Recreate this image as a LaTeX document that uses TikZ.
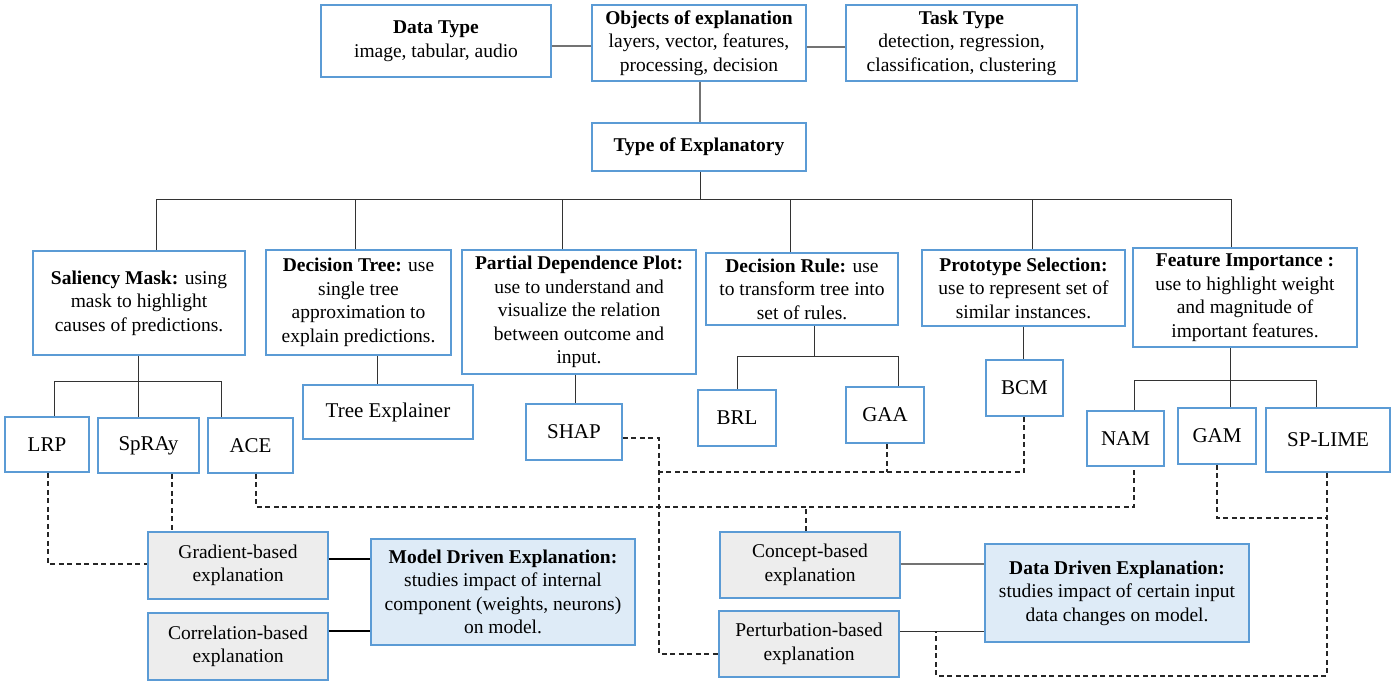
\documentclass[tikz,border=0pt]{standalone}
\usepackage{fontspec}
\setmainfont{Liberation Serif}
\definecolor{bblue}{RGB}{91,155,213}
\definecolor{gfill}{RGB}{237,237,237}
\definecolor{lbfill}{RGB}{222,235,247}
\tikzset{
  box/.style={draw=bblue, line width=1.8pt, fill=white, align=center, inner sep=1pt,
    font=\fontsize{19.5}{23.5}\selectfont},
  sbox/.style={box, font=\fontsize{21}{25}\selectfont},
  gbox/.style={box, fill=gfill},
  lbbox/.style={box, fill=lbfill},
  tl/.style={draw=black!80, line width=0.9pt},
  gl/.style={draw=black!55, line width=1.2pt},
  thk/.style={draw=black, line width=2.2pt},
  dl/.style={draw=black!85, line width=1.1pt, dash pattern=on 5pt off 3.5pt},
}
\begin{document}
\begin{tikzpicture}[x=1pt,y=-1pt]
\useasboundingbox (0,0) rectangle (1400,684);
% top row
\node[box, minimum width=230, minimum height=72] (dt) at (436,41) {\textbf{Data Type}\\image, tabular, audio};
\node[box, minimum width=214, minimum height=76] (obj) at (699,43) {\textbf{Objects of explanation}\\layers, vector, features,\\processing, decision};
\node[box, minimum width=231, minimum height=76] (task) at (961.5,43) {\textbf{Task Type}\\detection, regression,\\classification, clustering};
\node[box, minimum width=214, minimum height=48] (toe) at (699,147) {\textbf{Type of Explanatory}};
% second row
\node[box, minimum width=212, minimum height=104] (sal) at (139,303) {\textbf{Saliency Mask:} using\\mask to highlight\\causes of predictions.};
\node[box, minimum width=185, minimum height=105] (dtree) at (358.5,302.5) {\textbf{Decision Tree:} use\\single tree\\approximation to\\explain predictions.};
\node[box, minimum width=234, minimum height=124] (pdp) at (579,312) {\textbf{Partial Dependence Plot:}\\use to understand and\\visualize the relation\\between outcome and\\input.};
\node[box, minimum width=192, minimum height=72] (drule) at (802,289) {\textbf{Decision Rule:} use\\to transform tree into\\set of rules.};
\node[box, minimum width=203, minimum height=76] (proto) at (1023.5,288) {\textbf{Prototype Selection:}\\use to represent set of\\similar instances.};
\node[box, minimum width=224, minimum height=99] (fimp) at (1245,297.5) {\textbf{Feature Importance :}\\use to highlight weight\\and magnitude of\\important features.};
% third row
\node[sbox, minimum width=84, minimum height=55] (lrp) at (47,444.5) {LRP};
\node[sbox, minimum width=101, minimum height=55] (spray) at (148.5,445.5) {SpRAy};
\node[sbox, minimum width=85, minimum height=55] (ace) at (250.5,445.5) {ACE};
\node[sbox, minimum width=170, minimum height=54] (tree) at (388,412) {Tree Explainer};
\node[sbox, minimum width=96, minimum height=56] (shap) at (574,432) {SHAP};
\node[sbox, minimum width=78, minimum height=56] (brl) at (737,418) {BRL};
\node[sbox, minimum width=78, minimum height=56] (gaa) at (885,415) {GAA};
\node[sbox, minimum width=77, minimum height=56] (bcm) at (1024.5,388) {BCM};
\node[sbox, minimum width=77, minimum height=55] (nam) at (1125.5,438.5) {NAM};
\node[sbox, minimum width=78, minimum height=56] (gam) at (1217,436) {GAM};
\node[sbox, minimum width=124, minimum height=64] (splime) at (1328,440) {SP-LIME};
% bottom
\node[gbox, minimum width=180, minimum height=67] (grad) at (238,565.5) {Gradient-based\\explanation};
\node[gbox, minimum width=180, minimum height=67] (corr) at (238,646.5) {Correlation-based\\explanation};
\node[lbbox, minimum width=264, minimum height=106] (model) at (503,592) {\textbf{Model Driven Explanation:}\\studies impact of internal\\component (weights, neurons)\\on model.};
\node[gbox, minimum width=180, minimum height=66] (concept) at (810,565) {Concept-based\\explanation};
\node[gbox, minimum width=180, minimum height=66] (pert) at (809,644) {Perturbation-based\\explanation};
\node[lbbox, minimum width=264, minimum height=98] (data) at (1117,593) {\textbf{Data Driven Explanation:}\\studies impact of certain input\\data changes on model.};

% top connectors
\draw[gl] (dt.east |- 0,46) -- (obj.west |- 0,46);
\draw[gl] (obj.east |- 0,47) -- (task.west |- 0,47);
\draw[gl] (obj.south -| 700,0) -- (toe.north -| 700,0);
% main bus
\coordinate (bus) at (700,199);
\draw[tl] (toe.south -| bus) -- (bus);
\draw[tl] (sal.north -| 156,0) -- (bus -| 156,0) -- (bus -| 1231,0) -- (fimp.north -| 1231,0);
\draw[tl] (dtree.north -| 355,0) -- (bus -| 355,0);
\draw[tl] (pdp.north -| 562,0) -- (bus -| 562,0);
\draw[tl] (drule.north -| 790,0) -- (bus -| 790,0);
\draw[tl] (proto.north -| 1032,0) -- (bus -| 1032,0);
% saliency subtree
\coordinate (sbus) at (138,381);
\draw[tl] (sal.south -| sbus) -- (spray.north -| sbus);
\draw[tl] (lrp.north -| 54,0) -- (sbus -| 54,0) -- (sbus -| 221,0) -- (ace.north -| 221,0);
% decision tree, pdp
\draw[tl] (dtree.south -| 377,0) -- (tree.north -| 377,0);
\draw[tl] (pdp.south -| 575,0) -- (shap.north -| 575,0);
% decision rule subtree
\coordinate (rbus) at (814,356);
\draw[tl] (drule.south -| rbus) -- (rbus);
\draw[tl] (brl.north) -- (brl.north |- rbus) -- (rbus -| 898,0) -- (gaa.north -| 898,0);
% prototype
\draw[tl] (proto.south -| 1023,0) -- (bcm.north -| 1023,0);
% feature importance subtree
\coordinate (fbus) at (1230,380);
\draw[tl] (fimp.south -| fbus) -- (gam.north -| fbus);
\draw[tl] (nam.north -| 1134,0) -- (fbus -| 1134,0) -- (fbus -| 1316,0) -- (splime.north -| 1316,0);

% bottom solid
\draw[thk] (grad.east |- 0,559) -- (model.west |- 0,559);
\draw[thk] (corr.east |- 0,631) -- (model.west |- 0,631);
\draw[gl] (concept.east |- 0,564) -- (data.west |- 0,564);
\coordinate (pd) at (936,631);
\draw[tl] (pert.east |- pd) -- (data.west |- pd);

% dashed
\draw[dl] (lrp.south -| 48,0) |- (grad.west |- 0,564);
\draw[dl] (spray.south -| 172,0) -- (grad.north -| 172,0);
\coordinate (cbus) at (806,507);
\draw[dl] (ace.south -| 256,0) |- (cbus) -| (nam.south -| 1134,0);
\draw[dl] (concept.north -| cbus) -- (cbus);
\coordinate (sv) at (659,472);
\draw[dl] (shap.east |- 0,438) -| (sv) |- (pert.west |- 0,654);
\draw[dl] (gaa.south -| 887,0) -- (sv -| 887,0);
\draw[dl] (bcm.south -| 1024,0) |- (sv);
\draw[dl] (gam.south -| 1217,0) |- (1327,518);
\draw[dl] (splime.south -| 1327,0) |- (936,676) -- (pd);
\end{tikzpicture}
\end{document}
